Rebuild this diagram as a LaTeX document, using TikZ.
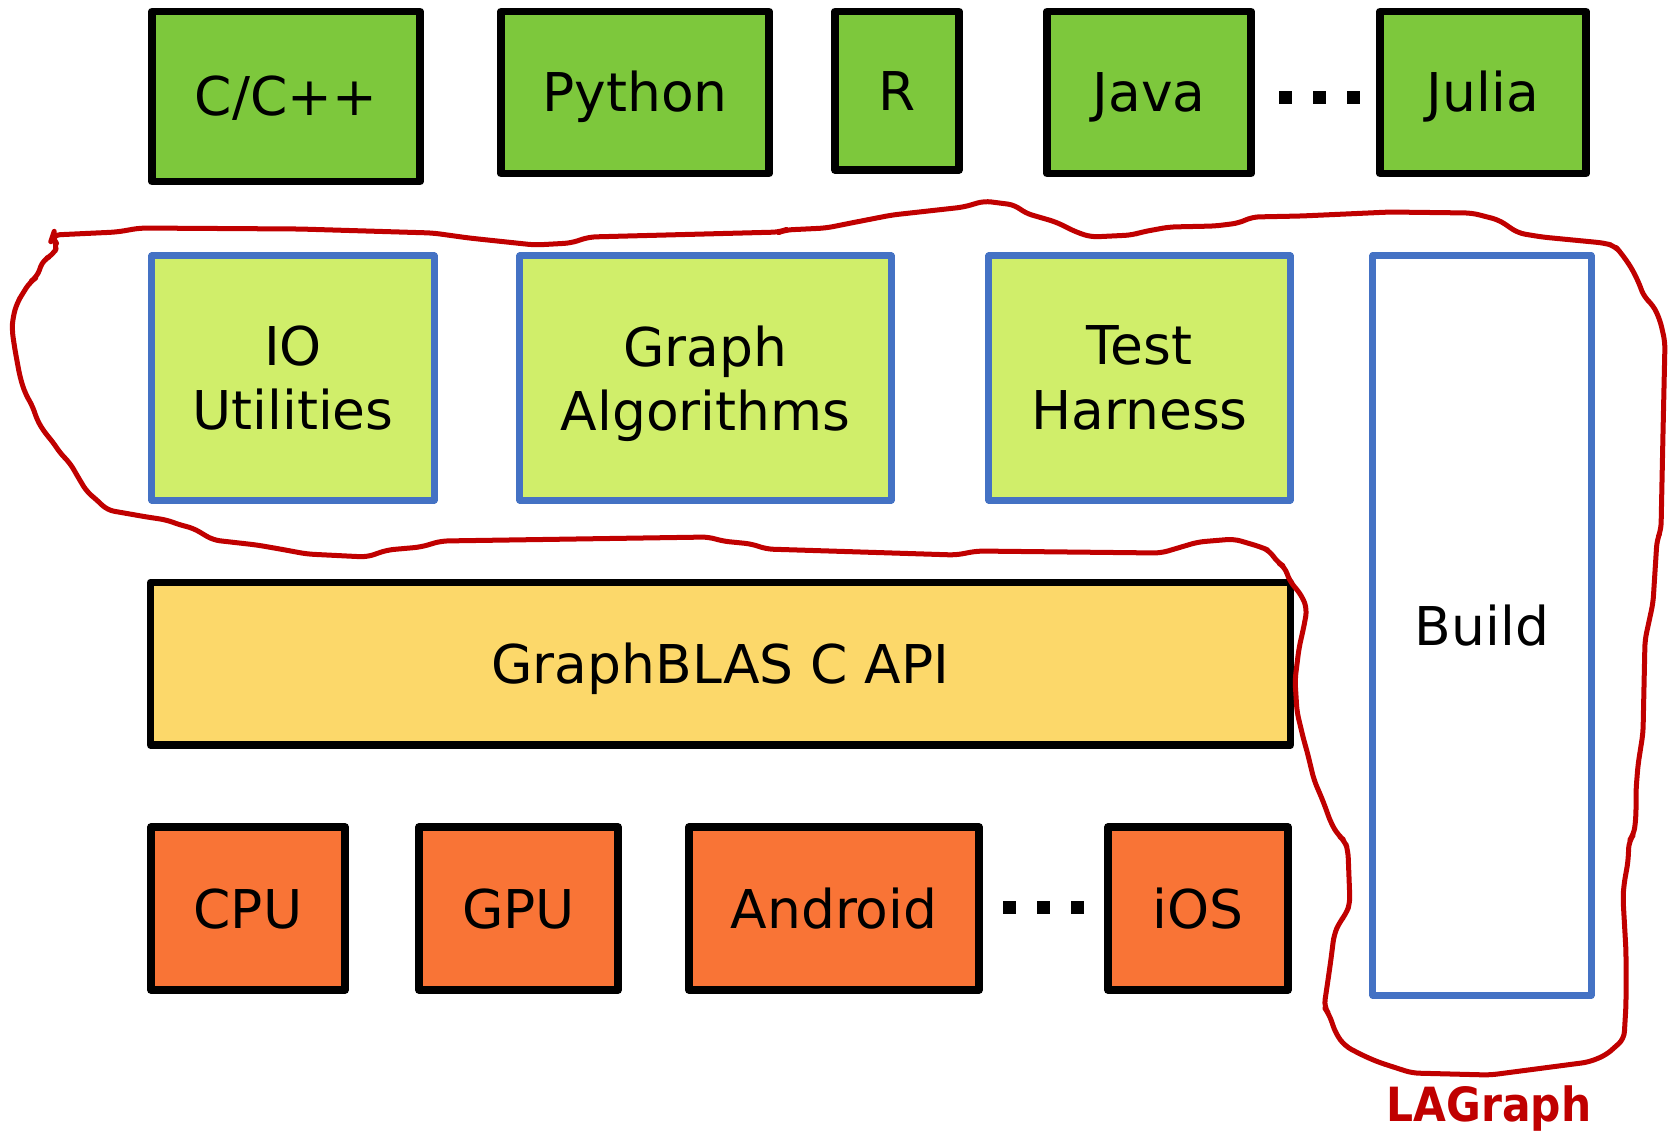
\documentclass[tikz,border=0pt]{standalone}
\usepackage{fontspec}
\setmainfont{DejaVu Sans}
\newfontfamily\lagfont{DejaVu Sans Condensed}
\usepackage{tikz}
\usetikzlibrary{positioning}
\usepackage{xcolor}
\definecolor{langgreen}{RGB}{125,200,60}
\definecolor{libgreen}{RGB}{208,238,106}
\definecolor{apiyellow}{RGB}{252,216,106}
\definecolor{hworange}{RGB}{249,116,54}
\definecolor{libblue}{RGB}{68,114,196}
\definecolor{lagred}{RGB}{192,0,0}
\newcommand{\boxfont}{\fontsize{15.2}{18.3}\selectfont}
\tikzstyle{layer} = [draw=black, line width=0.075cm, line join=round, inner sep=0pt, font=\boxfont, text height=11.08pt, text depth=0pt, align=center]
\tikzstyle{langbox} = [layer, fill=langgreen]
\tikzstyle{libbox} = [layer, draw=libblue, line width=0.07cm, fill=libgreen]
\tikzstyle{twoline} = [text height=, text depth=]
\tikzstyle{apibox} = [layer, fill=apiyellow]
\tikzstyle{hwbox} = [layer, fill=hworange]

\begin{document}
\begin{tikzpicture}[x=0.01cm, y=-0.01cm]
\useasboundingbox (0,0) rectangle (1669,1132);

% Languages
\node[langbox, minimum width=2.68cm, minimum height=1.70cm] (cpp) at (286,96.5) {C/C++};
\node[langbox, minimum width=2.68cm, minimum height=1.62cm] (python) at (635,92.5) {Python};
\node[langbox, minimum width=1.24cm, minimum height=1.585cm] (rlang) at (897,90.75) {R};
\node[langbox, minimum width=2.04cm, minimum height=1.62cm] (java) at (1149,92.5) {Java};
\node[langbox, minimum width=2.06cm, minimum height=1.62cm] (julia) at (1483,92.5) {Julia};
\foreach \x in {1285,1319,1353}
  \fill (\x-6.5,90.5) rectangle (\x+6.5,103.5);

% LAGraph parts
\node[libbox, twoline, minimum width=2.82cm, minimum height=2.44cm] (io) at (293,378) {IO\\Utilities};
\node[libbox, twoline, minimum width=3.71cm, minimum height=2.44cm] (algo) at (705.5,378) {Graph\\\smash{Algorithms}};
\node[libbox, twoline, minimum width=3.01cm, minimum height=2.44cm] (test) at (1139.5,378) {Test\\Harness};
\node[libbox, fill=white, minimum width=2.18cm, minimum height=7.39cm] (build) at (1482,625.5) {Build};

% GraphBLAS
\node[apibox, minimum width=11.39cm, minimum height=1.625cm] (grb) at (720.5,663.75) {GraphBLAS C API};

% Hardware
\node[hwbox, minimum width=1.94cm, minimum height=1.63cm] (cpu) at (248,908.5) {CPU};
\node[hwbox, minimum width=1.99cm, minimum height=1.63cm] (gpu) at (518.5,908.5) {GPU};
\node[hwbox, minimum width=2.90cm, minimum height=1.63cm] (android) at (834,908.5) {Android};
\node[hwbox, minimum width=1.80cm, minimum height=1.63cm] (ios) at (1198,908.5) {iOS};
\foreach \x in {1009,1043,1077}
  \fill (\x-6.5,900.5) rectangle (\x+6.5,913.5);

% LAGraph outline
\draw[lagred, line width=0.05cm, line join=round, rounded corners=2pt]
  (53,235) -- (117,232) -- (140,228) -- (300,229) -- (433,233) -- (469,238) -- (535,245)
  -- (571,243) -- (589,237) -- (780,232) -- (785,230) -- (826,228) -- (851,223) -- (892,215)
  -- (964,207) -- (984,201) -- (1015,205) -- (1025,213) -- (1056,222) -- (1076,232) -- (1091,237)
  -- (1132,235) -- (1142,232) -- (1169,227) -- (1215,226) -- (1239,223) -- (1252,217) -- (1301,216)
  -- (1390,212) -- (1472,213) -- (1499,220) -- (1518,233) -- (1542,237) -- (1604,243) -- (1615,246)
  -- (1621,253) -- (1631,267) -- (1639,283) -- (1644,297) -- (1653,305) -- (1660,320) -- (1665,342)
  -- (1663,433) -- (1661,530) -- (1657,540) -- (1653,603) -- (1645,640) -- (1643,733) -- (1638,765)
  -- (1636,790) -- (1636,816) -- (1634,834) -- (1629,841) -- (1628,862) -- (1624,884) -- (1623,898)
  -- (1626,951) -- (1626,1005) -- (1624,1039) -- (1606,1055) -- (1589,1062) -- (1490,1075)
  -- (1412,1073) -- (1378,1062) -- (1362,1055) -- (1345,1046) -- (1336,1034) -- (1329,1014)
  -- (1324,1007) -- (1328,980) -- (1331,959) -- (1334,935) -- (1339,923) -- (1346,914) -- (1350,903)
  -- (1348,851) -- (1345,841) -- (1338,835) -- (1331,823) -- (1323,801) -- (1314,780) -- (1307,751)
  -- (1304,741) -- (1297,712) -- (1295,680) -- (1299,648) -- (1304,626) -- (1307,609) -- (1302,596)
  -- (1289,580) -- (1285,567) -- (1277,562) -- (1270,551) -- (1261,547) -- (1234,539) -- (1198,542)
  -- (1161,553) -- (977,551) -- (956,555) -- (766,549) -- (752,544) -- (722,541) -- (709,537)
  -- (441,541) -- (421,547) -- (387,550) -- (367,557) -- (307,554) -- (280,549) -- (257,545)
  -- (213,540) -- (193,528) -- (180,525) -- (167,520) -- (147,517) -- (107,510) -- (97,500)
  -- (87,492) -- (78,477) -- (70,463) -- (60,453) -- (53,442) -- (45,433) -- (37,420) -- (33,407)
  -- (25,393) -- (20,377) -- (15,350) -- (12,330) -- (13,317) -- (17,303) -- (23,293) -- (30,282)
  -- (37,277) -- (43,260) -- (53,255) -- (58,245) -- (52,238) -- cycle;
\node[lagred, inner sep=0pt, font=\lagfont\bfseries\fontsize{13.4}{16}\selectfont, text height=9.8pt, text depth=0pt] (lagraph) at (1489,1104) {LAGraph};
\end{tikzpicture}
\end{document}
